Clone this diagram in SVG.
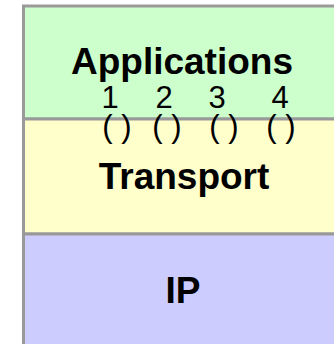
<svg xmlns="http://www.w3.org/2000/svg" width="334" height="344" viewBox="0 0 334 344">
<style>
.layer{stroke:#999999;stroke-width:3}
.big{font-family:"Liberation Sans",Arial,sans-serif;font-weight:bold;font-size:37px;text-anchor:middle;fill:#000}
.num{font-family:"Liberation Sans",Arial,sans-serif;font-size:31px;text-anchor:middle;fill:#000}
</style>
<rect width="334" height="344" fill="#ffffff"/>
<g id="applications">
<rect class="layer" x="23.5" y="6" width="320" height="113" fill="#ccffcc"/>
<text class="big" x="182" y="74">Applications</text>
</g>
<g id="transport">
<rect class="layer" x="23.5" y="119" width="320" height="115" fill="#ffffcc"/>
<text class="big" x="184" y="189">Transport</text>
</g>
<g id="ip">
<rect class="layer" x="23.5" y="234" width="320" height="120" fill="#ccccff"/>
<text class="big" x="183" y="303">IP</text>
</g>
<g id="ports">
<text class="num" x="110" y="108">1</text>
<text class="num" x="164" y="108">2</text>
<text class="num" x="217" y="108">3</text>
<text class="num" x="280" y="108">4</text>
<text class="num" x="117" y="137">( )</text>
<text class="num" x="167" y="137">( )</text>
<text class="num" x="224" y="137">( )</text>
<text class="num" x="281" y="137">( )</text>
</g>
</svg>
